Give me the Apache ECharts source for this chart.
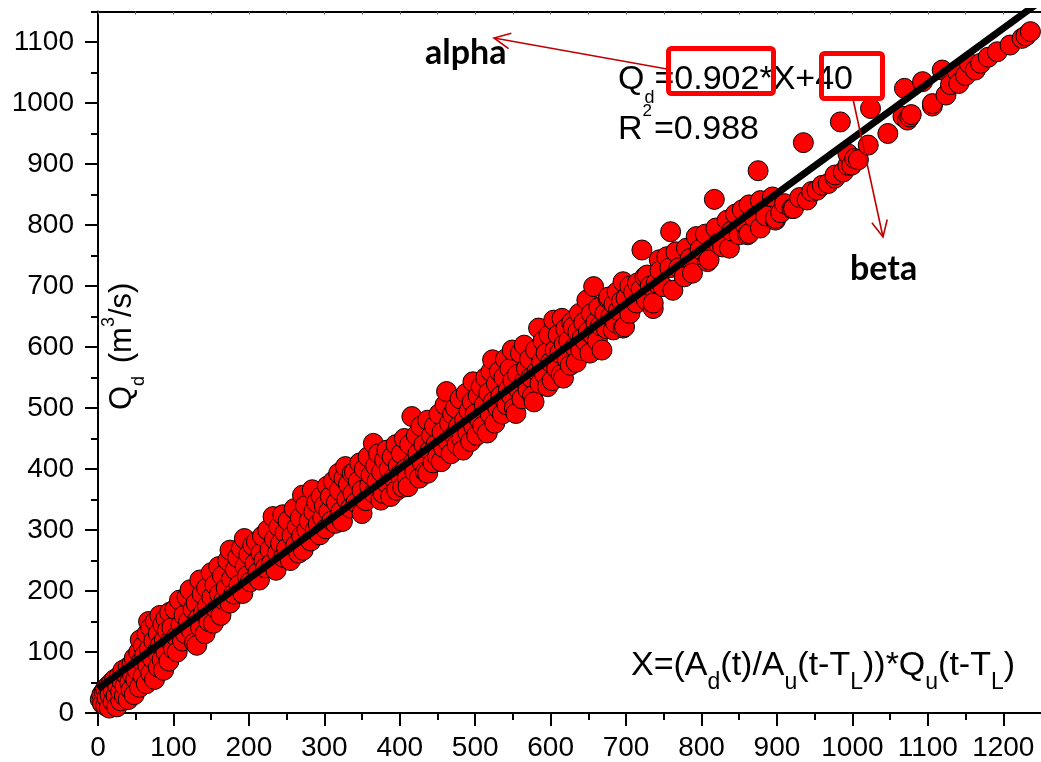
<!DOCTYPE html>
<html>
<head>
<meta charset="utf-8">
<title>Qd vs X</title>
<script src="https://cdn.jsdelivr.net/npm/echarts@6/dist/echarts.min.js"></script>
<style>
  html, body { margin: 0; padding: 0; background: #fff; }
  #chart { width: 1041px; height: 762px; }
</style>
</head>
<body>
<div id="chart"></div>
<script>
// Axis tick positions
const xMajor = [0, 100, 200, 300, 400, 500, 600, 700, 800, 900, 1000, 1100, 1200];
const xMinor = [50, 150, 250, 350, 450, 550, 650, 750, 850, 950, 1050, 1150];
const yMajor = [0, 100, 200, 300, 400, 500, 600, 700, 800, 900, 1000, 1100];
const yMinor = [50, 150, 250, 350, 450, 550, 650, 750, 850, 950, 1050, 1150];

// Linear fit Qd = alpha * X + beta
const fitAlpha = 0.902;
const fitBeta = 40;
const fitR2 = 0.988;

// Observed points [X, Qd], grouped by X range
const pts0 = [[3,22],[5,30],[6,15],[8,35],[10,12],[10,40],[12,25],[14,45],[15,8],[16,30],[18,50],[20,18],[20,38],[22,55],[24,28],[25,10],[26,45],[28,60],[30,20],[30,35],[32,52],[33,70],[35,28],[36,44],[38,62],[40,22],[40,75],[42,50],[44,38],[45,80],[46,62],[48,30],[48,90],[50,55]];
const pts1 = [[52,70],[54,100],[55,42],[56,120],[58,85],[60,60],[60,110],[62,95],[64,48],[65,130],[66,78],[67,150],[68,105],[70,65],[70,140],[72,90],[74,118],[75,55],[76,150],[78,100],[80,75],[80,130],[82,160],[83,112],[85,88],[86,145],[87,70],[88,120],[90,100],[90,155],[92,135],[94,85],[95,165],[96,118],[98,140],[100,105]];
const pts2 = [[102,170],[104,125],[105,100],[108,185],[110,145],[112,118],[114,160],[116,130],[118,190],[120,150],[122,202],[124,135],[126,170],[128,115],[130,180],[131,111],[133,155],[135,218],[136,140],[138,195],[140,165],[142,130],[144,205],[145,175],[147,150],[150,230],[151,190],[153,147],[155,210],[157,170],[160,240],[161,195],[163,160],[165,225],[167,185],[170,205],[172,250],[175,180],[175,267],[177,220],[180,195],[182,235],[185,255],[187,210],[190,270],[192,196],[194,286],[195,240],[198,225],[200,260]];
const pts3 = [[202,215],[205,275],[208,245],[210,281],[212,230],[214,218],[216,262],[218,290],[220,250],[222,238],[225,300],[228,268],[230,245],[232,322],[234,285],[236,234],[238,262],[240,305],[242,278],[245,325],[246,255],[248,295],[250,270],[252,315],[255,250],[257,290],[260,335],[262,275],[264,305],[266,262],[268,320],[270,290],[271,357],[272,267],[275,340],[277,300],[280,315],[282,282],[284,366],[286,330],[288,300],[290,345],[292,310],[294,292],[296,355],[298,320]];
const pts4 = [[300,340],[302,302],[304,372],[306,330],[308,355],[310,315],[312,380],[315,311],[316,345],[319,393],[320,365],[322,330],[324,314],[326,385],[328,404],[330,350],[332,375],[335,336],[337,393],[338,360],[340,395],[342,345],[345,380],[347,410],[350,327],[350,365],[353,400],[355,348],[358,420],[360,372],[362,390],[365,442],[366,360],[368,405],[370,380],[372,425],[375,349],[376,395],[378,360],[380,415],[383,431],[384,375],[386,400],[388,355],[390,420],[392,385],[395,440],[396,365],[398,405],[400,390]];
const pts5 = [[402,425],[404,370],[406,450],[408,400],[410,385],[411,371],[413,440],[416,486],[418,410],[420,395],[422,455],[424,425],[426,385],[428,470],[430,410],[432,440],[434,395],[437,480],[437,393],[440,430],[442,455],[444,410],[446,470],[448,440],[450,420],[452,490],[455,412],[456,460],[458,435],[460,505],[462,527],[464,445],[466,475],[468,425],[470,490],[472,455],[474,500],[476,440],[478,470],[480,515],[482,450],[484,431],[486,480],[488,524],[490,460],[492,495],[494,445],[496,510],[497,543],[498,470]];
const pts6 = [[500,490],[502,455],[504,520],[506,480],[508,535],[510,470],[512,505],[514,550],[516,459],[518,525],[520,490],[521,560],[523,579],[524,510],[526,475],[528,540],[530,500],[532,560],[534,520],[536,490],[538,550],[540,580],[542,505],[544,530],[546,565],[548,520],[549,595],[550,545],[552,500],[554,491],[556,555],[558,530],[560,590],[562,515],[565,603],[566,545],[568,565],[570,530],[572,580],[574,550],[576,520],[578,510],[580,595],[582,560],[584,631],[586,540],[588,575],[590,610],[592,555],[594,590],[596,535],[598,620]];
const pts7 = [[600,575],[602,545],[604,644],[606,595],[608,565],[610,620],[612,590],[614,555],[615,647],[617,549],[618,605],[620,630],[622,580],[624,610],[626,570],[628,640],[630,633],[632,600],[634,575],[636,625],[638,655],[640,595],[642,615],[644,640],[646,610],[648,677],[650,625],[652,590],[654,655],[656,620],[657,699],[660,640],[662,610],[664,665],[666,635],[668,595],[672,655],[674,630],[676,680],[677,682],[680,650],[683,628],[684,670],[686,640],[688,690],[690,660],[694,675],[696,707],[696,631],[698,633]];
const pts8 = [[700,680],[705,700],[705,655],[710,690],[714,672],[715,705],[720,695],[721,759],[725,715],[727,677],[728,718],[732,700],[736,663],[736,672],[740,705],[744,743],[745,725],[749,699],[754,748],[758,730],[759,789],[762,693],[766,756],[770,730],[777,715],[780,762],[785,745],[788,721],[793,781],[798,760]];
const pts9 = [[805,785],[808,740],[810,743],[817,842],[819,795],[822,770],[828,764],[834,808],[837,762],[840,790],[845,818],[850,784],[854,825],[858,800],[861,784],[863,786],[863,833],[870,812],[875,889],[878,795],[878,840],[885,815],[894,846],[898,808],[898,811]];
const pts10 = [[905,820],[910,835],[920,827],[922,827],[930,845],[935,935],[940,841],[946,855],[953,857],[960,865],[968,868],[977,877],[977,882],[984,969],[988,887],[994,898],[994,917],[999,898]];
const pts11 = [[1003,909],[1008,907],[1021,931],[1024,991],[1047,950],[1067,978],[1069,1024],[1073,972],[1076,977],[1078,981],[1093,1035],[1106,995],[1106,999],[1119,1054],[1124,1013],[1130,1030],[1139,1051],[1141,1032],[1150,1045],[1155,1065],[1163,1054],[1170,1065],[1180,1075],[1192,1084],[1209,1095],[1225,1106],[1230,1110],[1236,1117]];

const scatterData = [].concat(pts0, pts1, pts2, pts3, pts4, pts5, pts6, pts7, pts8, pts9, pts10, pts11);

const X_MIN = 0, X_MAX = 1250, Y_MIN = 0, Y_MAX = 1150;
const fitLine = [X_MIN, X_MAX].map(x => [x, fitAlpha * x + fitBeta]);

const SANS = "'Liberation Sans', Arial, sans-serif";
const BOLD_SANS = "Lato, 'Open Sans', sans-serif";

// Lay out a run of text pieces (with sub/superscripts) along one baseline
const measureCtx = document.createElement('canvas').getContext('2d');
function textRun(x0, baseline, segs, family, weight) {
  const out = [];
  let x = x0;
  weight = weight || 'normal';
  for (const s of segs) {
    measureCtx.font = weight + ' ' + s.size + 'px ' + family;
    out.push({
      type: 'text',
      x: x,
      y: baseline + (s.dy || 0) - 0.3465 * s.size,
      z: 100,
      style: {
        text: s.t, fontSize: s.size, fontFamily: family, fontWeight: weight,
        fill: '#000', align: 'left', verticalAlign: 'middle'
      }
    });
    x += measureCtx.measureText(s.t).width + (s.gap || 0);
  }
  return out;
}

// Open arrow from p0 to tip p1
function arrow(p0, p1, len, halfAngle) {
  const a = Math.atan2(p0[1] - p1[1], p0[0] - p1[0]);
  const arm = d => [p1[0] + len * Math.cos(a + d), p1[1] + len * Math.sin(a + d)];
  return [
    { type: 'polyline', z: 110, shape: { points: [p0, p1] },
      style: { stroke: '#c00000', lineWidth: 1.6, fill: null } },
    { type: 'polyline', z: 110, shape: { points: [arm(halfAngle), p1, arm(-halfAngle)] },
      style: { stroke: '#c00000', lineWidth: 1.6, fill: null } }
  ];
}

const EQ = 34, EQS = 18, SUBX = 23;
const alphaStr = fitAlpha.toFixed(3);
const betaStr = String(fitBeta);
const r2Str = fitR2.toFixed(3);

const graphics = [].concat(
  // fit equation
  textRun(618, 91, [
    { t: 'Q', size: EQ }, { t: 'd', size: EQS, dy: 13 },
    { t: '=' + alphaStr + '*X+' + betaStr, size: EQ }
  ], SANS),
  textRun(618, 141, [
    { t: 'R', size: EQ }, { t: '2', size: 17, dy: -24, gap: 2 }, { t: '=' + r2Str, size: EQ }
  ], SANS),
  // definition of X
  textRun(631, 677, [
    { t: 'X=(A', size: EQ }, { t: 'd', size: SUBX, dy: 14 },
    { t: '(t)/A', size: EQ }, { t: 'u', size: SUBX, dy: 14 },
    { t: '(t-T', size: EQ }, { t: 'L', size: SUBX, dy: 14 },
    { t: '))*Q', size: EQ }, { t: 'u', size: SUBX, dy: 14 },
    { t: '(t-T', size: EQ }, { t: 'L', size: SUBX, dy: 14 },
    { t: ')', size: EQ }
  ], SANS),
  // parameter labels
  textRun(425, 65, [{ t: 'alpha', size: 34 }], BOLD_SANS, 'bold'),
  textRun(850, 281, [{ t: 'beta', size: 34 }], BOLD_SANS, 'bold'),
  // highlight boxes
  [
    { type: 'rect', z: 105, shape: { x: 668.5, y: 48.5, width: 105, height: 45, r: 3 },
      style: { stroke: '#ff0000', lineWidth: 5, fill: null } },
    { type: 'rect', z: 105, shape: { x: 821.5, y: 53.5, width: 61, height: 45, r: 3 },
      style: { stroke: '#ff0000', lineWidth: 5, fill: null } }
  ],
  arrow([667, 69], [494, 38], 18, 0.45),
  arrow([853, 99], [883, 237], 18, 0.45),
  // y axis title, rotated
  [{
    type: 'group', x: 133, y: 410, rotation: Math.PI / 2, z: 100,
    children: textRun(0, 0, [
      { t: 'Q', size: 31 }, { t: 'd', size: 18, dy: 12, gap: 4 },
      { t: ' (m', size: 31 }, { t: '3', size: 18, dy: -18 },
      { t: '/s)', size: 31 }
    ], SANS)
  }]
);

const chart = echarts.init(document.getElementById('chart'), null, { renderer: 'canvas' });

const axisLineStyle = { color: '#000', width: 2 };
const tickLabel = { color: '#000', fontSize: 28, fontFamily: SANS, formatter: v => String(v) };

chart.setOption({
  animation: false,
  backgroundColor: '#fff',
  grid: { left: 98, right: -7, top: 11.5, bottom: 49, containLabel: false },
  xAxis: [
    {
      type: 'value', position: 'bottom', min: X_MIN, max: X_MAX,
      axisLine: { show: true, lineStyle: axisLineStyle },
      axisTick: { show: true, inside: false, length: 13, lineStyle: { color: '#000', width: 2 }, customValues: xMajor },
      axisLabel: Object.assign({ show: true, margin: 21, customValues: xMajor }, tickLabel),
      splitLine: { show: false }
    },
    {
      type: 'value', position: 'bottom', min: X_MIN, max: X_MAX,
      axisLine: { show: false },
      axisTick: { show: true, inside: false, length: 7, lineStyle: { color: '#000', width: 2 }, customValues: xMinor },
      axisLabel: { show: false },
      splitLine: { show: false }
    },
    {
      type: 'value', position: 'top', min: X_MIN, max: X_MAX,
      axisLine: { show: true, lineStyle: axisLineStyle },
      axisTick: { show: true, inside: true, length: 3, lineStyle: { color: '#666', width: 1 }, customValues: xMajor.concat(xMinor) },
      axisLabel: { show: false },
      splitLine: { show: false }
    }
  ],
  yAxis: [
    {
      type: 'value', position: 'left', min: Y_MIN, max: Y_MAX,
      axisLine: { show: true, lineStyle: axisLineStyle },
      axisTick: { show: true, inside: false, length: 13, lineStyle: { color: '#000', width: 2 }, customValues: yMajor },
      axisLabel: Object.assign({ show: true, margin: 24, customValues: yMajor }, tickLabel),
      splitLine: { show: false }
    },
    {
      type: 'value', position: 'left', min: Y_MIN, max: Y_MAX,
      axisLine: { show: false },
      axisTick: { show: true, inside: false, length: 7, lineStyle: { color: '#000', width: 2 }, customValues: yMinor },
      axisLabel: { show: false },
      splitLine: { show: false }
    }
  ],
  series: [
    {
      type: 'scatter', xAxisIndex: 0, yAxisIndex: 0,
      data: scatterData,
      symbol: 'circle', symbolSize: 20,
      itemStyle: { color: '#ff0000', borderColor: '#000', borderWidth: 1, opacity: 1 },
      z: 2
    },
    {
      type: 'line', xAxisIndex: 0, yAxisIndex: 0,
      data: fitLine, symbol: 'none', clip: true,
      lineStyle: { color: '#000', width: 7 },
      z: 3
    }
  ],
  graphic: graphics
});
</script>
</body>
</html>
